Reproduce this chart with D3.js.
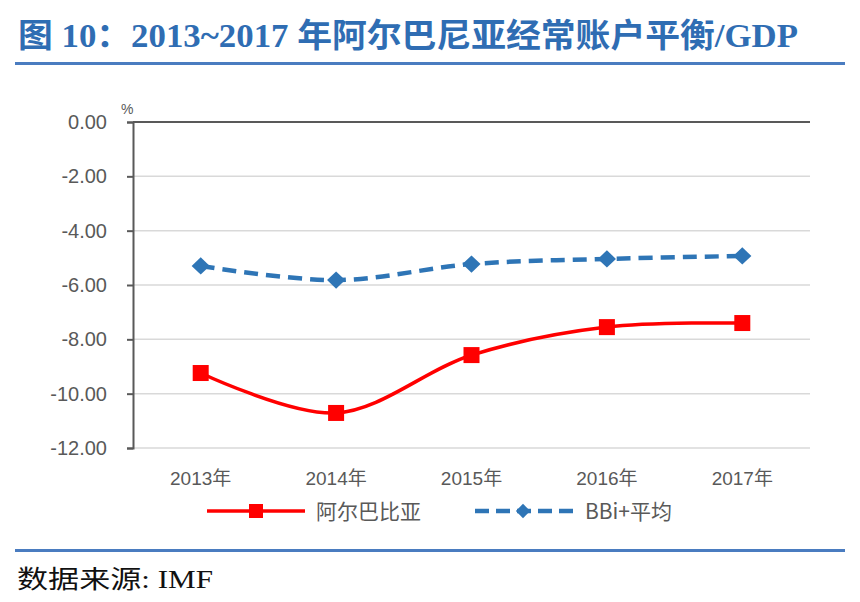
<!DOCTYPE html>
<html><head><meta charset="utf-8">
<script src="https://cdn.jsdelivr.net/npm/d3@7/dist/d3.min.js"></script>
<style>body{margin:0;background:#fff}</style>
</head><body>
<svg id="c" width="860" height="602"></svg>
<script>
const categories = ["2013年","2014年","2015年","2016年","2017年"];
const albania = [-9.24,-10.71,-8.58,-7.55,-7.40];
const bbiAvg = [-5.30,-5.82,-5.23,-5.04,-4.93];
const yTicks = [0,-2,-4,-6,-8,-10,-12];
const seriesNames = ["阿尔巴比亚","BBi+平均"];

const svg = d3.select("#c");
const L=133,R=810,T=122,B=448;
const x = d3.scalePoint().domain(categories).range([L,R]).padding(0.5);
const y = d3.scaleLinear().domain([-12,0]).range([B,T]);
const fmt = d => d3.format(".2f")(d).replace("\u2212","-");

// title
svg.append("text").attr("x",18).attr("y",47).attr("fill","#2f6db3")
  .attr("font-family","'Liberation Serif','Noto Sans CJK SC',serif").attr("font-weight","bold")
  .attr("font-size",33).attr("textLength",780).attr("lengthAdjust","spacingAndGlyphs")
  .text("图 10：2013~2017 年阿尔巴尼亚经常账户平衡/GDP");
svg.append("rect").attr("x",15).attr("y",62).attr("width",830).attr("height",3).attr("fill","#4a7cc0");
svg.append("rect").attr("x",15).attr("y",549).attr("width",830).attr("height",3).attr("fill","#4a7cc0");
svg.append("text").attr("x",17).attr("y",588).attr("fill","#111")
  .attr("font-family","'Liberation Serif','Noto Sans CJK SC',serif")
  .attr("font-size",25).attr("textLength",196).attr("lengthAdjust","spacingAndGlyphs").text("数据来源: IMF");

// gridlines
svg.append("g").selectAll("line").data(yTicks.filter(d=>d!==0)).join("line")
  .attr("x1",L).attr("x2",R).attr("y1",d=>y(d)).attr("y2",d=>y(d))
  .attr("stroke","#d9d9d9").attr("stroke-width",1.5);

// y axis
const ya = svg.append("g").attr("transform",`translate(${L},0)`)
  .call(d3.axisLeft(y).tickValues(yTicks).tickSize(6).tickFormat(fmt));
ya.select(".domain").attr("stroke","#595959").attr("stroke-width",2);
ya.selectAll(".tick line").attr("stroke","#595959").attr("stroke-width",2);
ya.selectAll(".tick text").attr("fill","#595959").attr("font-size",20)
  .attr("font-family","'Liberation Sans',Arial,sans-serif").attr("x",-26);

// x axis line at 0
svg.append("line").attr("x1",L).attr("x2",R).attr("y1",y(0)).attr("y2",y(0))
  .attr("stroke","#595959").attr("stroke-width",2);
svg.append("g").selectAll("text").data(categories).join("text")
  .attr("x",d=>x(d)).attr("y",485).attr("text-anchor","middle")
  .attr("fill","#595959").attr("font-size",19)
  .attr("font-family","'Liberation Sans','Noto Sans CJK SC',sans-serif").text(d=>d);

svg.append("text").attr("x",121).attr("y",114).attr("fill","#595959").attr("font-size",14)
  .attr("font-family","'Liberation Sans',sans-serif").text("%");

const line = d3.line().x((d,i)=>x(categories[i])).y(d=>y(d)).curve(d3.curveCatmullRom.alpha(0.5));

const red="#ff0000", blue="#2e75b6";
svg.append("path").attr("d",line(bbiAvg)).attr("fill","none").attr("stroke",blue)
  .attr("stroke-width",4.5).attr("stroke-dasharray","14,8");
svg.append("path").attr("d",line(albania)).attr("fill","none").attr("stroke",red)
  .attr("stroke-width",3.5);

const diamond = d3.symbol().type(d3.symbolDiamond2).size(190);
svg.append("g").selectAll("path").data(bbiAvg).join("path")
  .attr("d",diamond).attr("transform",(d,i)=>`translate(${x(categories[i])},${y(d)}) scale(1.05,1)`).attr("fill",blue);
svg.append("g").selectAll("rect").data(albania).join("rect")
  .attr("x",(d,i)=>x(categories[i])-8).attr("y",d=>y(d)-8).attr("width",16).attr("height",16).attr("fill",red);

// legend
svg.append("line").attr("x1",207).attr("x2",305).attr("y1",511).attr("y2",511).attr("stroke",red).attr("stroke-width",3.5);
svg.append("rect").attr("x",249).attr("y",504).attr("width",14).attr("height",14).attr("fill",red);
svg.append("text").attr("x",316).attr("y",519).attr("fill","#595959").attr("font-size",21)
  .attr("font-family","'Noto Sans CJK SC',sans-serif").text(seriesNames[0]);
svg.append("line").attr("x1",475).attr("x2",575).attr("y1",511).attr("y2",511).attr("stroke",blue)
  .attr("stroke-width",4.5).attr("stroke-dasharray","14,7");
svg.append("path").attr("d",d3.symbol().type(d3.symbolDiamond2).size(130)).attr("transform","translate(523,511)").attr("fill",blue);
svg.append("text").attr("x",585).attr("y",519).attr("fill","#595959").attr("font-size",21)
  .attr("font-family","'Noto Sans CJK SC',sans-serif").text(seriesNames[1]);
</script>
</body></html>
